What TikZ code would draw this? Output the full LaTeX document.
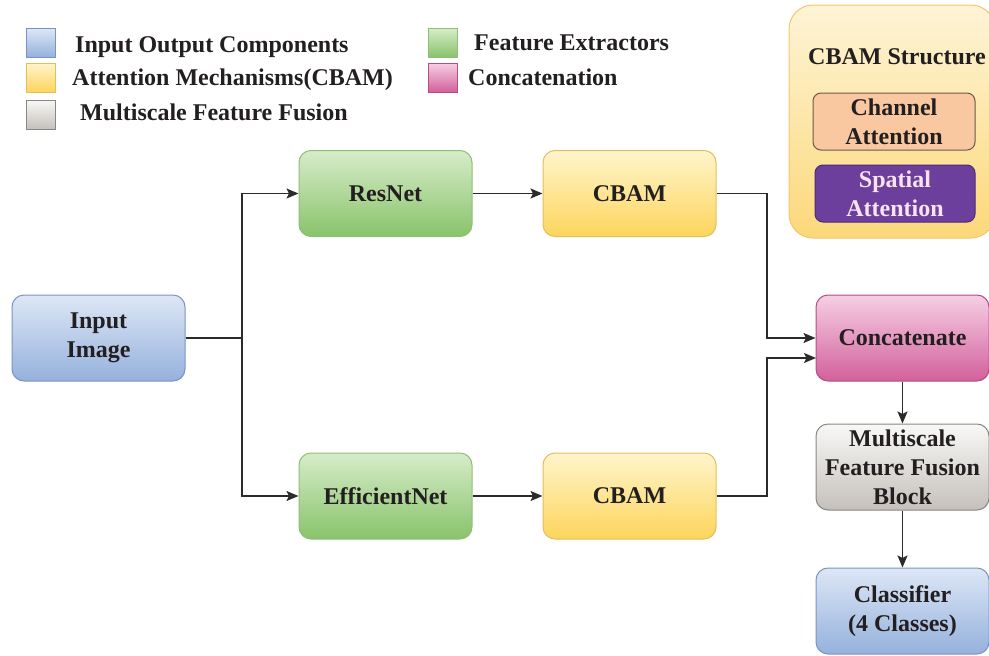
\documentclass[tikz,border=0pt]{standalone}
\usepackage{fontspec}
\setmainfont{Liberation Serif}
\usetikzlibrary{arrows.meta}

% palette
\definecolor{ioTop}{HTML}{DDE7F6}
\definecolor{ioBot}{HTML}{95B1DC}
\definecolor{ioDraw}{HTML}{7B93C2}
\definecolor{featTop}{HTML}{D7ECCA}
\definecolor{featBot}{HTML}{88C36A}
\definecolor{featDraw}{HTML}{8FBF75}
\definecolor{attTop}{HTML}{FFF5CC}
\definecolor{attBot}{HTML}{FDD55C}
\definecolor{attDraw}{HTML}{E3BE5A}
\definecolor{catTop}{HTML}{F6CFE5}
\definecolor{catBot}{HTML}{D2609A}
\definecolor{catDraw}{HTML}{B44D82}
\definecolor{fuseTop}{HTML}{F8F8F7}
\definecolor{fuseBot}{HTML}{C5C0BB}
\definecolor{fuseDraw}{HTML}{8A8682}
\definecolor{structTop}{HTML}{FDF4D6}
\definecolor{structBot}{HTML}{FCD87A}
\definecolor{structDraw}{HTML}{F0C870}
\definecolor{chanFill}{HTML}{F9C8A0}
\definecolor{chanDraw}{HTML}{6B5A4A}
\definecolor{spatFill}{HTML}{6C3F9C}
\definecolor{spatDraw}{HTML}{4D2A78}
\definecolor{spatText}{HTML}{F8E4F0}
\definecolor{ink}{HTML}{231F20}
\definecolor{lineC}{HTML}{2B2B2B}

\begin{document}
\begin{tikzpicture}[x=1pt,y=-1pt,
  font=\bfseries\fontsize{24}{29}\selectfont, text=ink,
  box/.style={rounded corners=12pt, minimum width=173pt, minimum height=86pt,
    align=center, line width=1pt, inner sep=2pt},
  iobox/.style={box, draw=ioDraw, top color=ioTop, bottom color=ioBot},
  featbox/.style={box, draw=featDraw, top color=featTop, bottom color=featBot},
  attbox/.style={box, draw=attDraw, top color=attTop, bottom color=attBot},
  catbox/.style={box, draw=catDraw, top color=catTop, bottom color=catBot},
  fusebox/.style={box, draw=fuseDraw, top color=fuseTop, bottom color=fuseBot},
  swatch/.style={minimum width=29pt, minimum height=29pt, inner sep=0pt, line width=0.8pt},
  legtext/.style={anchor=base west, inner sep=0pt},
  link/.style={draw=lineC, line width=1.8pt},
  arr/.style={link, -{Stealth[length=12pt,width=10pt,inset=2.5pt]}},
]
\useasboundingbox (0,0) rectangle (989,656);

% legend
\node[swatch, draw=ioDraw, top color=ioTop, bottom color=ioBot] (lg1) at (41,42.5) {};
\node[swatch, draw=attDraw, top color=attTop, bottom color=attBot] (lg2) at (41,77.5) {};
\node[swatch, draw=fuseDraw, top color=fuseTop, bottom color=fuseBot] (lg3) at (41,114.5) {};
\node[swatch, draw=featDraw, top color=featTop, bottom color=featBot] (lg4) at (443,42.5) {};
\node[swatch, draw=catDraw, top color=catTop, bottom color=catBot] (lg5) at (443,77.5) {};
\node[legtext] (lt1) at (75,52) {Input Output Components};
\node[legtext] (lt2) at (72,85) {Attention Mechanisms(CBAM)};
\node[legtext] (lt3) at (80,120) {Multiscale Feature Fusion};
\node[legtext] (lt4) at (474,50) {Feature Extractors};
\node[legtext] (lt5) at (468,85) {Concatenation};

% CBAM structure panel
\node[rounded corners=24pt, draw=structDraw, line width=1pt,
      top color=structTop, bottom color=structBot,
      minimum width=206pt, minimum height=233pt] (struct) at (892,121.5) {};
\node (structtitle) at (897,57) {CBAM Structure};
\node[rounded corners=8pt, draw=chanDraw, fill=chanFill, line width=1pt,
      minimum width=162pt, minimum height=57pt, align=center, inner sep=0pt]
      (chan) at (894,121.5) {Channel\\Attention};
\node[rounded corners=8pt, draw=spatDraw, fill=spatFill, line width=1pt,
      minimum width=160pt, minimum height=57pt, align=center, inner sep=0pt,
      text=spatText] (spat) at (895,193.5) {Spatial\\Attention};

% pipeline blocks
\node[iobox] (input) at (98.5,338) {Input\\Image};
\node[featbox] (resnet) at (385.5,193.5) {ResNet};
\node[attbox] (cbam1) at (629.5,193.5) {CBAM};
\node[featbox] (effnet) at (385.5,496) {EfficientNet};
\node[attbox] (cbam2) at (629.5,496) {CBAM};
\node[catbox] (concat) at (902.5,338) {Concatenate};
\node[fusebox] (fusion) at (902.5,467) {Multiscale\\Feature Fusion\\Block};
\node[iobox] (classifier) at (902.5,611) {Classifier\\(4 Classes)};

% routing points
\coordinate (split) at (242,338);
\coordinate (j1) at (767,193.5);
\coordinate (j2) at (767,496);
\coordinate (catin2) at (816,358);

% connectors
\draw[link] (input.east) -- (split);
\draw[arr] (split) |- (resnet.west);
\draw[arr] (split) |- (effnet.west);
\draw[arr] (resnet) -- (cbam1);
\draw[arr] (effnet) -- (cbam2);
\draw[arr] (cbam1.east) -- (j1) |- (concat.west);
\draw[arr] (cbam2.east) -- (j2) |- (catin2);
\draw[arr] (concat) -- (fusion);
\draw[arr] (fusion) -- (classifier);
\end{tikzpicture}
\end{document}
